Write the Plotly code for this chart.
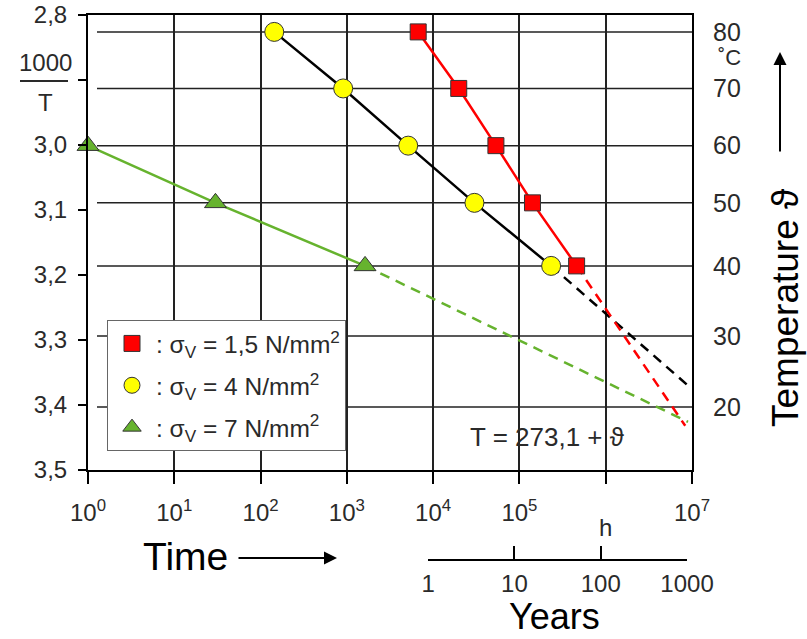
import plotly.graph_objects as go

# ---------------- data ----------------
# y positions are 1000/T values of the isotherms 80,70,60,50,40 °C
red_x = [6710, 19800, 53400, 141700, 460000]
red_y = [2.826, 2.913, 3.001, 3.089, 3.186]
yel_x = [144, 906, 5140, 30100, 233000]
yel_y = [2.826, 2.913, 3.001, 3.089, 3.186]
grn_x = [1, 30, 1625]
grn_y = [3.001, 3.089, 3.186]

# extrapolations (dashed)
red_ext_x = [460000, 8.35e6]
red_ext_y = [3.186, 3.432]
blk_ext_x = [233000, 8.8e6]
blk_ext_y = [3.186, 3.369]
grn_ext_x = [1625, 9.0e6]
grn_ext_y = [3.186, 3.426]

left_ticks = [2.8, 2.9, 3.0, 3.1, 3.2, 3.3, 3.4, 3.5]
left_labels = ["2,8", "", "3,0", "3,1", "3,2", "3,3", "3,4", "3,5"]
temp_pos = [2.826, 2.913, 3.001, 3.089, 3.186, 3.294, 3.403]
temp_labels = ["80", "70", "60", "50", "40", "30", "20"]
x_ticks = [1, 10, 100, 1e3, 1e4, 1e5, 1e6, 1e7]
x_labels = ["10<sup>0</sup>", "10<sup>1</sup>", "10<sup>2</sup>", "10<sup>3</sup>",
            "10<sup>4</sup>", "10<sup>5</sup>", "", "10<sup>7</sup>"]
year_ticks = [1, 10, 100, 1000]
year_labels = ["1", "10", "100", "1000"]
legend_names = [": σ<sub>V</sub> = 1,5 N/mm<sup>2</sup>",
                ": σ<sub>V</sub> = 4 N/mm<sup>2</sup>",
                ": σ<sub>V</sub> = 7 N/mm<sup>2</sup>"]

RED = "#ff0000"
YEL = "#ffff00"
GRN = "#66b32e"
TXT = "#2a2a2a"
FONT = "Liberation Sans"

W, H = 807, 639
ML, MR, MT, MB = 88, 115, 15, 20
PW = W - ML - MR
PH = H - MT - MB


def px(X):
    return (X - ML) / PW


def py(Y):
    return (H - MB - Y) / PH


fig = go.Figure()

# dashed extrapolations
fig.add_trace(go.Scatter(x=blk_ext_x, y=blk_ext_y, mode="lines",
                         line=dict(color="black", width=2.5, dash="10px,7px"),
                         showlegend=False, hoverinfo="skip"))
fig.add_trace(go.Scatter(x=red_ext_x, y=red_ext_y, mode="lines",
                         line=dict(color=RED, width=2.5, dash="10px,7px"),
                         showlegend=False, hoverinfo="skip"))
fig.add_trace(go.Scatter(x=grn_ext_x, y=grn_ext_y, mode="lines",
                         line=dict(color=GRN, width=2.5, dash="10px,7px"),
                         showlegend=False, hoverinfo="skip"))

# measured series
fig.add_trace(go.Scatter(x=yel_x, y=yel_y, mode="lines+markers",
                         line=dict(color="black", width=2.5),
                         marker=dict(symbol="circle", size=19, color=YEL,
                                     line=dict(color="#333", width=1)),
                         showlegend=False, cliponaxis=False))
fig.add_trace(go.Scatter(x=red_x, y=red_y, mode="lines+markers",
                         line=dict(color=RED, width=2.5),
                         marker=dict(symbol="square", size=16, color=RED,
                                     line=dict(color="#333", width=1)),
                         showlegend=False, cliponaxis=False))
fig.add_trace(go.Scatter(x=grn_x, y=grn_y, mode="lines+markers",
                         line=dict(color=GRN, width=2.5),
                         marker=dict(symbol="triangle-up", size=19, color=GRN,
                                     line=dict(color="#333", width=1)),
                         showlegend=False, cliponaxis=False))

# legend entries
for nm, sym, col, sz in zip(legend_names, ["square", "circle", "triangle-up"],
                            [RED, YEL, GRN], [16, 19, 19]):
    fig.add_trace(go.Scatter(x=[None], y=[None], mode="markers", name=nm,
                             marker=dict(symbol=sym, size=sz, color=col,
                                         line=dict(color="#333", width=1)),
                             legendgroup=nm))

# helper traces so that secondary axes get drawn
fig.add_trace(go.Scatter(x=[None], y=[None], yaxis="y2", showlegend=False,
                         hoverinfo="skip"))
fig.add_trace(go.Scatter(x=[None], y=[None], xaxis="x2", showlegend=False,
                         hoverinfo="skip"))

ydom = [py(470), 1]

fig.update_layout(
    width=W, height=H,
    margin=dict(l=ML, r=MR, t=MT, b=MB, autoexpand=False),
    paper_bgcolor="white", plot_bgcolor="rgba(0,0,0,0)",
    font=dict(family=FONT, color=TXT, size=22),
    xaxis=dict(type="log", range=[0, 7], domain=[0, 1],
               tickvals=x_ticks, ticktext=x_labels, automargin=False,
               showline=True, linecolor="black", linewidth=2, mirror=True,
               ticks="outside", ticklen=12, tickwidth=1.5, tickcolor="black",
               showgrid=True, gridcolor="#222", gridwidth=1.5, zeroline=False,
               tickfont=dict(size=24), ticklabelstandoff=8, anchor="y"),
    yaxis=dict(range=[3.5, 2.8], domain=ydom, automargin=False,
               tickvals=left_ticks, ticktext=left_labels,
               showline=True, linecolor="black", linewidth=2, mirror=True,
               ticks="outside", ticklen=8, tickwidth=2, tickcolor="black",
               showgrid=False, zeroline=False, tickfont=dict(size=24),
               ticklabelstandoff=6, anchor="x"),
    yaxis2=dict(range=[3.5, 2.8], overlaying="y", side="right", anchor="x",
                tickvals=temp_pos, ticktext=temp_labels, automargin=False,
                showgrid=False, showline=False, ticks="", zeroline=False,
                tickfont=dict(size=25), ticklabelstandoff=20),
    xaxis2=dict(type="log", range=[0, 3], anchor="free", position=py(560),
                domain=[0.5632, 0.9918], automargin=False,
                tickvals=year_ticks, ticktext=year_labels,
                showline=True, linecolor="black", linewidth=2,
                ticks="inside", ticklen=13, tickwidth=2, tickcolor="black",
                showgrid=False, zeroline=False, tickfont=dict(size=24),
                ticklabelstandoff=2),
    legend=dict(x=px(107), y=py(320), xanchor="left", yanchor="top",
                bordercolor="#666", borderwidth=1, bgcolor="white",
                font=dict(size=24.5, color=TXT), tracegroupgap=7,
                itemsizing="trace", itemwidth=38),
    showlegend=True,
)

# horizontal isotherm grid lines (start slightly right of the left axis)
for tp in temp_pos:
    fig.add_shape(type="line", xref="paper", yref="y",
                  x0=px(97), x1=1, y0=tp, y1=tp, layer="below",
                  line=dict(color="#222", width=1.5))

annotations = [
    dict(text="T = 273,1 + ϑ", x=px(547), y=py(437), font=dict(size=26)),
    dict(text="h", x=px(605), y=py(527), font=dict(size=24)),
    dict(text="Time", x=px(185), y=py(556), font=dict(size=39, color="black")),
    dict(text="Temperature ϑ", x=px(785), y=py(308), textangle=-90,
         font=dict(size=37, color="black")),
    dict(text="1000", x=px(45), y=py(62), font=dict(size=24)),
    dict(text="T", x=px(45), y=py(102), font=dict(size=24)),
    dict(text="˚C", x=px(729), y=py(58), font=dict(size=22)),
]
for a in annotations:
    a.update(xref="paper", yref="paper", showarrow=False,
             xanchor="center", yanchor="middle")
annotations.append(dict(text="Years", x=px(554), y=py(639), xref="paper",
                        yref="paper", showarrow=False, xanchor="center",
                        yanchor="bottom", font=dict(size=36, color="black")))

# arrows
annotations.append(dict(text="", xref="paper", yref="paper",
                        x=px(337), y=py(558), ax=-100, ay=0,
                        showarrow=True, arrowhead=2, arrowsize=1.3,
                        arrowwidth=2, arrowcolor="black"))
annotations.append(dict(text="", xref="paper", yref="paper",
                        x=px(780), y=py(52), ax=0, ay=101,
                        showarrow=True, arrowhead=2, arrowsize=1.3,
                        arrowwidth=2, arrowcolor="black"))
fig.update_layout(annotations=annotations)

# fraction bar of 1000/T
fig.add_shape(type="line", xref="paper", yref="paper",
              x0=px(20), x1=px(68), y0=py(81), y1=py(81),
              line=dict(color=TXT, width=2))

fig.write_html("out.html")
